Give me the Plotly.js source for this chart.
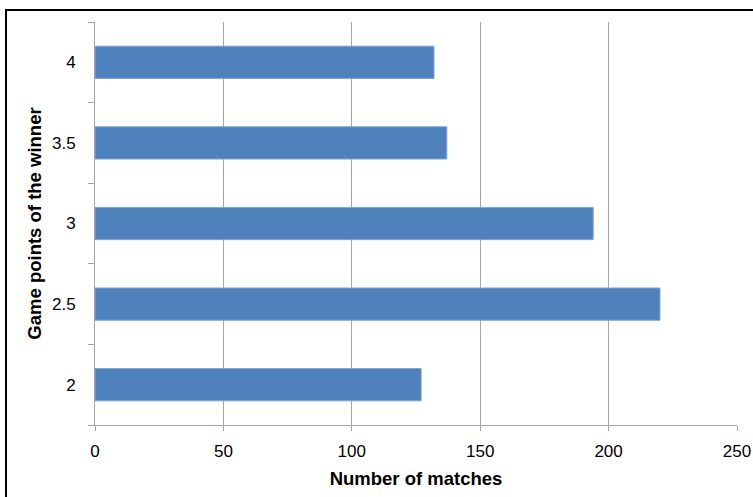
<!DOCTYPE html>
<html>
<head>
<meta charset="utf-8">
<script src="https://cdn.plot.ly/plotly-3.0.1.min.js"></script>
<style>
html,body{margin:0;padding:0;background:#fff;}
#chart{width:753px;height:497px;}
</style>
</head>
<body>
<div id="chart"></div>
<script>
const categories = ['2', '2.5', '3', '3.5', '4'];
const matches = [127, 220, 194, 137, 132];
const xTicks = [0, 50, 100, 150, 200, 250];

const trace = {
  type: 'bar',
  orientation: 'h',
  y: categories,
  x: matches,
  marker: {color: '#4F81BD', line: {color: '#7FA2CF', width: 1}},
  hoverinfo: 'x+y'
};

const fontFam = 'Liberation Sans, Arial, sans-serif';

const layout = {
  width: 753, height: 497,
  margin: {l: 95, r: 16, t: 22, b: 72},
  paper_bgcolor: '#fff', plot_bgcolor: '#fff',
  showlegend: false,
  bargap: 0.6,
  font: {family: fontFam, size: 17, color: '#000'},
  xaxis: {
    range: [0, 250],
    tickvals: xTicks,
    ticktext: xTicks.map(String),
    showgrid: true, gridcolor: '#A6A6A6', gridwidth: 1,
    zeroline: false,
    showline: true, linecolor: '#A6A6A6', linewidth: 1,
    ticks: 'outside', ticklen: 5, tickcolor: '#A6A6A6',
    ticklabelstandoff: 6,
    tickfont: {family: fontFam, size: 17, color: '#000'},
    title: {text: '<b>Number of matches</b>', font: {family: fontFam, size: 18.5, color: '#000'}, standoff: 11},
    fixedrange: true
  },
  yaxis: {
    type: 'category',
    categoryorder: 'array', categoryarray: categories,
    showgrid: false, zeroline: false,
    showline: true, linecolor: '#A6A6A6', linewidth: 1,
    ticks: 'outside', ticklen: 6, tickcolor: '#A6A6A6',
    tickson: 'boundaries',
    ticklabelstandoff: 15,
    tickfont: {family: fontFam, size: 17, color: '#000'},
    title: {text: '<b>Game points of the winner</b>', font: {family: fontFam, size: 18.5, color: '#000'}, standoff: 5},
    fixedrange: true
  },
  shapes: [{
    type: 'rect', xref: 'paper', yref: 'paper',
    x0: -0.1386, x1: 1.2, y0: -0.3, y1: 1.0298,
    line: {color: '#000', width: 2}, fillcolor: 'rgba(0,0,0,0)', layer: 'above'
  }]
};

Plotly.newPlot('chart', [trace], layout, {displayModeBar: false, staticPlot: true});
</script>
</body>
</html>
